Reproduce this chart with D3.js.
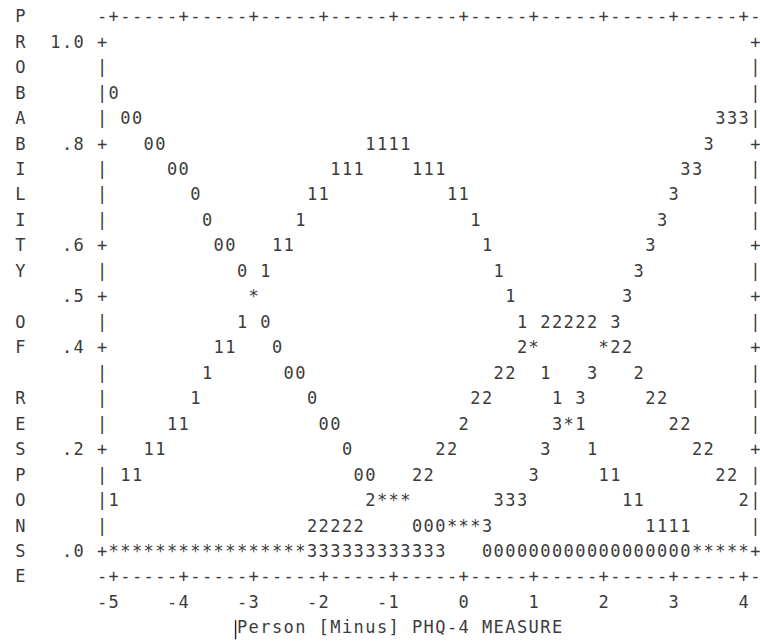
<!DOCTYPE html>
<html><head><meta charset="utf-8">
<script src="https://cdn.jsdelivr.net/npm/d3@7/dist/d3.min.js"></script>
<style>html,body{margin:0;padding:0;background:#fff;}svg{display:block}</style>
</head><body>
<svg id="chart" width="760" height="644"></svg>
<script>
// ---- data (probability per plot column, -5 .. 4 in steps of 1/6) ----
const categories = ["0", "1", "2", "3"];
const prob0 = [0.90,0.85,0.85,0.80,0.80,0.75,0.75,0.70,0.65,0.60,0.60,0.55,0.50,0.45,0.40,0.35,0.35,0.30,0.25,0.25,
               0.20,0.15,0.15,0.10,0.10,0.10,0.05,0.05,0.05,0.05,0.05,0.05,0,0,0,0,0,0,0,0,
               0,0,0,0,0,0,0,0,0,0,0,0,0,0,0];
const prob1 = [0.10,0.15,0.15,0.20,0.20,0.25,0.25,0.30,0.35,0.40,0.40,0.45,0.50,0.55,0.60,0.60,0.65,0.70,0.70,0.75,
               0.75,0.75,0.80,0.80,0.80,0.80,0.75,0.75,0.75,0.70,0.70,0.65,0.60,0.55,0.50,0.45,0.40,0.35,0.30,0.25,
               0.25,0.20,0.15,0.15,0.10,0.10,0.05,0.05,0.05,0.05,0,0,0,0,0];
const prob2 = [0,0,0,0,0,0,0,0,0,0,0,0,0,0,0,0,0,0.05,0.05,0.05,
               0.05,0.05,0.10,0.10,0.10,0.10,0.15,0.15,0.20,0.20,0.25,0.30,0.30,0.35,0.35,0.40,0.40,0.45,0.45,0.45,
               0.45,0.45,0.40,0.40,0.40,0.35,0.30,0.30,0.25,0.25,0.20,0.20,0.15,0.15,0.10];
const prob3 = [0,0,0,0,0,0,0,0,0,0,0,0,0,0,0,0,0,0,0,0,
               0,0,0,0,0,0,0,0,0,0.05,0.05,0.05,0.05,0.10,0.10,0.10,0.15,0.20,0.25,0.25,
               0.30,0.35,0.40,0.45,0.50,0.55,0.60,0.65,0.70,0.75,0.75,0.80,0.85,0.85,0.85];
const series = [prob0, prob1, prob2, prob3];
const xTicks = [-5, -4, -3, -2, -1, 0, 1, 2, 3, 4];
const xTickLabels = ["-5", "-4", "-3", "-2", "-1", "0", "1", "2", "3", "4"];
const yTicks = [1.0, 0.8, 0.6, 0.5, 0.4, 0.2, 0.0];
const yTickLabels = ["1.0", ".8", ".6", ".5", ".4", ".2", ".0"];
const yTitle = "PROBABILITY OF RESPONSE";
const xTitle = "Person [Minus] PHQ-4 MEASURE";

// ---- character-grid geometry ----
const colsPerUnit = 6;
const measures = d3.range(prob0.length).map(i => -5 + i / colsPerUnit); // plot columns
const x = d3.scaleLinear().domain([-5, 4]).range([113.67, 743.67]);
const y = d3.scaleLinear().domain([0, 1]).range([550.9, 41.5]);
const cw = x(-5 + 1 / colsPerUnit) - x(-5);     // one character column
const rowStep = 0.05;                            // one text row in probability units
const ink = "#3b3b3b";

const svg = d3.select("#chart");
const g = svg.append("g")
  .attr("font-family", "'DejaVu Sans Mono', 'Liberation Mono', monospace")
  .attr("font-size", 17)
  .attr("fill", ink);

function put(xc, yc, ch) {
  if (ch === " ") return;
  g.append("text").attr("x", xc).attr("y", yc).attr("dy", "0.36em")
    .attr("text-anchor", "middle").text(ch);
}
function putString(str, xStart, yc) {
  [...str].forEach((ch, i) => put(xStart + i * cw, yc, ch));
}
const near = (a, b) => Math.abs(a - b) < 1e-6;

// ---- vertical axis title (one letter per text row) ----
const colTitle = -5 - 8 / colsPerUnit;
[...yTitle].forEach((ch, r) => put(x(colTitle), y(1 + rowStep - r * rowStep), ch));

// ---- top and bottom rulers ----
const rulerLevels = [1 + rowStep, -rowStep];
rulerLevels.forEach(lv => {
  for (let c = 0; c <= prob0.length + 1; c++) {
    const m = -5 + (c - 1) / colsPerUnit;
    const isTick = xTicks.some(t => near(t, m));
    put(x(m), y(lv), isTick ? "+" : "-");
  }
});

// ---- left and right frame with '+' at labelled probabilities ----
const levels = d3.range(0, 21).map(i => i * rowStep);
const xLeft = x(-5 - 1 / colsPerUnit), xRight = x(4 + 1 / colsPerUnit);
levels.forEach(lv => {
  const isTick = yTicks.some(t => near(t, lv));
  put(xLeft, y(lv), isTick ? "+" : "|");
  put(xRight, y(lv), isTick ? "+" : "|");
});

// ---- y tick labels (right aligned two columns left of the frame) ----
yTicks.forEach((t, i) => {
  const s = yTickLabels[i];
  const xEnd = x(-5 - 3 / colsPerUnit);
  putString(s, xEnd - (s.length - 1) * cw, y(t));
});

// ---- x tick labels (last character under the tick) ----
xTicks.forEach((t, i) => {
  const s = xTickLabels[i];
  putString(s, x(t) - (s.length - 1) * cw, y(-2 * rowStep));
});

// ---- x title ----
const titleX = x(-5 + 11 / colsPerUnit), titleY = y(-3 * rowStep);
putString(xTitle, titleX, titleY);
svg.append("line")
  .attr("x1", titleX - cw * 0.55).attr("x2", titleX - cw * 0.55)
  .attr("y1", titleY - 7).attr("y2", titleY + 12)
  .attr("stroke", "#222").attr("stroke-width", 1.4);

// ---- the probability curves, one character per column; '*' where curves share a cell ----
measures.forEach((m, i) => {
  const cells = d3.group(categories.map((c, k) => ({ c, lv: Math.round(series[k][i] / rowStep) })), d => d.lv);
  cells.forEach((arr, lvIdx) => {
    put(x(m), y(lvIdx * rowStep), arr.length > 1 ? "*" : arr[0].c);
  });
});
</script>
</body></html>
